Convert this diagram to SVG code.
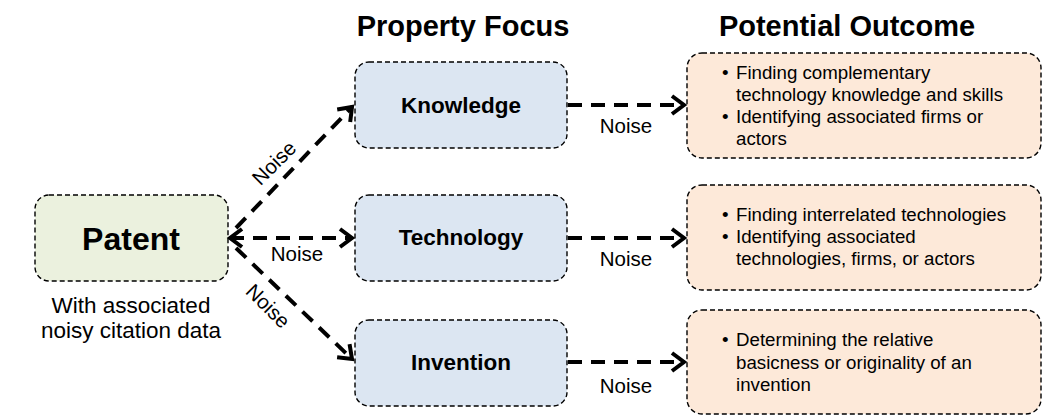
<svg xmlns="http://www.w3.org/2000/svg" width="1043" height="417" viewBox="0 0 1043 417">
<style>
text{font-family:"Liberation Sans",Arial,sans-serif;fill:#000}
.hdr{font-size:29px;font-weight:bold;text-anchor:middle}
.box{stroke:#000;stroke-width:1.4;stroke-dasharray:5 3}
.pat{fill:#ebf1de}
.prop{fill:#dce6f2}
.out{fill:#fde9d9}
.lbl{font-size:22.5px;font-weight:bold;text-anchor:middle}
.noise{font-size:20.5px;text-anchor:middle}
.bul{font-size:18.7px}
.conn{stroke:#000;stroke-width:4;stroke-dasharray:14 9;fill:none}
</style>
<defs>
<marker id="ah" markerUnits="userSpaceOnUse" markerWidth="20" markerHeight="24" refX="15" refY="12" orient="auto-start-reverse" viewBox="0 0 20 24">
<path d="M3,3 L15,12 L3,21" fill="none" stroke="#000" stroke-width="4"/>
</marker>
</defs>
<text class="hdr" x="463" y="36">Property Focus</text>
<text class="hdr" x="847" y="36">Potential Outcome</text>
<g id="patent">
<rect class="box pat" x="35" y="195" width="193" height="86" rx="14"/>
<text x="131" y="250" style="font-size:32px;font-weight:bold;text-anchor:middle">Patent</text>
<text x="131" y="313" style="font-size:22.5px;text-anchor:middle">With associated</text>
<text x="131" y="338" style="font-size:22.5px;text-anchor:middle">noisy citation data</text>
</g>
<g id="knowledge">
<rect class="box prop" x="355" y="62" width="212" height="86" rx="14"/>
<text class="lbl" x="461" y="113">Knowledge</text>
</g>
<g id="technology">
<rect class="box prop" x="355" y="195" width="212" height="86" rx="14"/>
<text class="lbl" x="461" y="245">Technology</text>
</g>
<g id="invention">
<rect class="box prop" x="355" y="320" width="212" height="86" rx="14"/>
<text class="lbl" x="461" y="370">Invention</text>
</g>
<g id="outcome1">
<rect class="box out" x="687" y="53" width="354" height="105" rx="15"/>
<text class="bul" x="722" y="79">•</text>
<text class="bul" x="736" y="79">Finding complementary</text>
<text class="bul" x="736" y="101">technology knowledge and skills</text>
<text class="bul" x="722" y="123">•</text>
<text class="bul" x="736" y="123">Identifying associated firms or</text>
<text class="bul" x="736" y="145">actors</text>
</g>
<g id="outcome2">
<rect class="box out" x="687" y="185" width="354" height="105" rx="15"/>
<text class="bul" x="722" y="221">•</text>
<text class="bul" x="736" y="221">Finding interrelated technologies</text>
<text class="bul" x="722" y="243">•</text>
<text class="bul" x="736" y="243">Identifying associated</text>
<text class="bul" x="736" y="265">technologies, firms, or actors</text>
</g>
<g id="outcome3">
<rect class="box out" x="687" y="310" width="354" height="104" rx="15"/>
<text class="bul" x="722" y="346">•</text>
<text class="bul" x="736" y="346">Determining the relative</text>
<text class="bul" x="736" y="369">basicness or originality of an</text>
<text class="bul" x="736" y="391">invention</text>
</g>
<g id="connectors">
<line class="conn" x1="230" y1="238" x2="352" y2="238" marker-start="url(#ah)" marker-end="url(#ah)"/>
<line class="conn" x1="236" y1="228" x2="352" y2="107" marker-end="url(#ah)"/>
<line class="conn" x1="236" y1="248" x2="352" y2="359" marker-end="url(#ah)"/>
<line class="conn" x1="568" y1="105" x2="684" y2="105" marker-end="url(#ah)"/>
<line class="conn" x1="568" y1="238" x2="684" y2="238" marker-end="url(#ah)"/>
<line class="conn" x1="568" y1="362" x2="684" y2="362" marker-end="url(#ah)"/>
<text class="noise" x="0" y="0" transform="translate(279,168) rotate(-45)">Noise</text>
<text class="noise" x="297" y="261">Noise</text>
<text class="noise" x="0" y="0" transform="translate(263,311) rotate(45)">Noise</text>
<text class="noise" x="626" y="133">Noise</text>
<text class="noise" x="626" y="266">Noise</text>
<text class="noise" x="626" y="393">Noise</text>
</g>
</svg>
